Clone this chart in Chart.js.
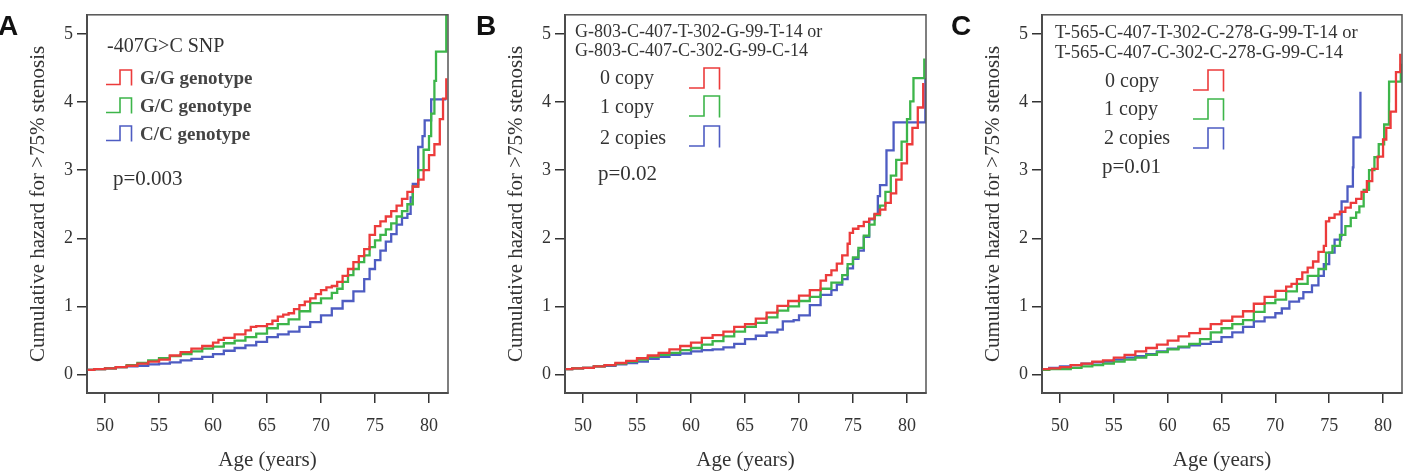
<!DOCTYPE html>
<html>
<head>
<meta charset="utf-8">
<title>Cumulative hazard for &gt;75% stenosis</title>
<script src="https://cdn.jsdelivr.net/npm/chart.js@4.4.0/dist/chart.umd.min.js"></script>
<style>
  html, body { margin:0; padding:0; background:#fff; }
  #wrap { position:relative; width:1409px; height:471px; overflow:hidden; font-family:'Liberation Serif','Times New Roman',serif; color:#333; }
  .panel { position:absolute; top:0; }
  .lbl { position:absolute; white-space:nowrap; line-height:1; transform:translateY(-50%); }
  .letter { position:absolute; font-family:'Liberation Sans',Arial,sans-serif; font-weight:bold; font-size:28px; line-height:1; color:#111; }
  .icon { position:absolute; }
</style>
</head>
<body>
<div id="wrap">
  <canvas id="cA" class="panel" style="left:0" width="470" height="471"></canvas>
  <canvas id="cB" class="panel" style="left:470px" width="470" height="471"></canvas>
  <canvas id="cC" class="panel" style="left:940px" width="469" height="471"></canvas>

  <div class="letter" style="left:-2px;top:12px">A</div>
  <div class="letter" style="left:476px;top:12px">B</div>
  <div class="letter" style="left:951px;top:12px">C</div>

  <!-- panel A legend -->
  <div class="lbl" style="left:107px;top:45px;font-size:20px">-407G&gt;C SNP</div>
  <svg class="icon" style="left:105px;top:69px" width="28" height="17"><path d="M1,15.5 H15 V1 H26.5 V16.5" fill="none" stroke="#ec3b3b" stroke-width="1.6"/></svg>
  <svg class="icon" style="left:105px;top:97px" width="28" height="17"><path d="M1,15.5 H15 V1 H26.5 V16.5" fill="none" stroke="#3db54a" stroke-width="1.6"/></svg>
  <svg class="icon" style="left:105px;top:125px" width="28" height="17"><path d="M1,15.5 H15 V1 H26.5 V16.5" fill="none" stroke="#4e5cc2" stroke-width="1.6"/></svg>
  <div class="lbl" style="left:140px;top:77px;font-size:19px;font-weight:bold;color:#444">G/G genotype</div>
  <div class="lbl" style="left:140px;top:105px;font-size:19px;font-weight:bold;color:#444">G/C genotype</div>
  <div class="lbl" style="left:140px;top:133px;font-size:19px;font-weight:bold;color:#444">C/C genotype</div>
  <div class="lbl" style="left:113px;top:178px;font-size:21px">p=0.003</div>

  <!-- panel B legend -->
  <div class="lbl" style="left:575px;top:31px;font-size:18px">G-803-C-407-T-302-G-99-T-14 or</div>
  <div class="lbl" style="left:575px;top:50px;font-size:18px">G-803-C-407-C-302-G-99-C-14</div>
  <div class="lbl" style="left:600px;top:77px;font-size:20px">0 copy</div>
  <div class="lbl" style="left:600px;top:106px;font-size:20px">1 copy</div>
  <div class="lbl" style="left:600px;top:137px;font-size:20px">2 copies</div>
  <svg class="icon" style="left:688px;top:67px" width="33" height="23"><path d="M1,21 H16 V1 H31.5 V22.5" fill="none" stroke="#ec3b3b" stroke-width="1.6"/></svg>
  <svg class="icon" style="left:688px;top:95px" width="33" height="23"><path d="M1,21 H16 V1 H31.5 V22.5" fill="none" stroke="#3db54a" stroke-width="1.6"/></svg>
  <svg class="icon" style="left:688px;top:125px" width="33" height="23"><path d="M1,21 H16 V1 H31.5 V22.5" fill="none" stroke="#4e5cc2" stroke-width="1.6"/></svg>
  <div class="lbl" style="left:598px;top:173px;font-size:21px">p=0.02</div>

  <!-- panel C legend -->
  <div class="lbl" style="left:1055px;top:32px;font-size:18.5px">T-565-C-407-T-302-C-278-G-99-T-14 or</div>
  <div class="lbl" style="left:1055px;top:52px;font-size:18.5px">T-565-C-407-C-302-C-278-G-99-C-14</div>
  <div class="lbl" style="left:1105px;top:80px;font-size:20px">0 copy</div>
  <div class="lbl" style="left:1104px;top:108px;font-size:20px">1 copy</div>
  <div class="lbl" style="left:1104px;top:137px;font-size:20px">2 copies</div>
  <svg class="icon" style="left:1192px;top:69px" width="33" height="23"><path d="M1,21 H16 V1 H31.5 V22.5" fill="none" stroke="#ec3b3b" stroke-width="1.6"/></svg>
  <svg class="icon" style="left:1192px;top:98px" width="33" height="23"><path d="M1,21 H16 V1 H31.5 V22.5" fill="none" stroke="#3db54a" stroke-width="1.6"/></svg>
  <svg class="icon" style="left:1192px;top:127px" width="33" height="23"><path d="M1,21 H16 V1 H31.5 V22.5" fill="none" stroke="#4e5cc2" stroke-width="1.6"/></svg>
  <div class="lbl" style="left:1102px;top:166px;font-size:21px">p=0.01</div>
</div>

<script>
const FONT = "'Liberation Serif', 'Times New Roman', serif";
const RED = '#ec3b3b', GREEN = '#3db54a', BLUE = '#4e5cc2';

// axes
const xTicks = [50, 55, 60, 65, 70, 75, 80];
const yTicks = [0, 1, 2, 3, 4, 5];
const xMin = 48.33, xMax = 81.76;
const yMin = -0.27, yMax = 5.28;

// A: -407G>C SNP
const ageA_GG = [48.3,49,50,51,52,53,54,55,56,57,58,59,60,60.5,61,62,63,63.5,64,65,65.5,66,66.5,67,67.5,68,68.5,69,69.5,70,70.5,71,71.5,72,72.5,73,73.5,74,74.5,75,75.5,76,76.5,77,77.5,78,78.5,79,79.5,80,80.5,81,81.3,81.6];
const hazA_GG = [0.07,0.08,0.09,0.11,0.13,0.16,0.19,0.22,0.28,0.33,0.38,0.42,0.47,0.51,0.54,0.59,0.65,0.70,0.71,0.74,0.79,0.85,0.88,0.90,0.96,1.02,1.07,1.12,1.18,1.24,1.28,1.30,1.36,1.45,1.55,1.65,1.74,1.84,2.05,2.18,2.25,2.32,2.40,2.48,2.58,2.68,2.76,2.86,3.00,3.22,3.38,3.75,4.05,4.35];
const ageA_GC = [48.3,49,50,51,52,53,54,55,56,57,58,59,60,61,62,63,64,65,66,67,68,69,70,71,71.5,72,72.5,73,73.5,74,74.5,75,75.5,76,76.5,77,77.5,78,78.5,79,79.5,80,80.2,80.5,80.65,81.5,81.6];
const hazA_GC = [0.07,0.08,0.09,0.11,0.14,0.17,0.21,0.24,0.27,0.30,0.34,0.38,0.41,0.46,0.50,0.55,0.60,0.68,0.74,0.81,0.93,1.05,1.12,1.20,1.26,1.36,1.46,1.55,1.65,1.75,1.87,1.97,2.05,2.13,2.22,2.32,2.40,2.50,2.76,3.00,3.30,3.50,3.83,4.31,4.74,4.74,5.40];
const ageA_CC = [48.3,49,50,51,52,53,54,55,56,57,58,59,60,61,62,63,64,65,66,67,68,69,70,71,72,73,74,74.5,75,75.5,76,76.5,77,77.5,78,78.3,78.5,79,79.4,79.6,80.2,81.6];
const hazA_CC = [0.07,0.08,0.09,0.11,0.12,0.13,0.15,0.16,0.18,0.21,0.23,0.26,0.30,0.35,0.39,0.43,0.48,0.55,0.59,0.63,0.70,0.77,0.87,0.97,1.08,1.22,1.40,1.55,1.68,1.82,1.95,2.06,2.20,2.30,2.36,2.60,2.80,3.34,3.50,3.73,4.04,4.04];

// B: G-803-C-407-T-302-G-99-T-14 haplotype copies
const ageB_0 = [48.3,49,50,51,52,53,54,55,56,57,58,59,60,61,62,63,64,65,66,67,68,69,70,71,72,72.5,73,73.5,74,74.5,74.7,75,75.5,76,76.5,77,77.5,78,78.5,79,79.5,80,80.5,81,81.5];
const hazB_0 = [0.08,0.09,0.10,0.12,0.14,0.17,0.20,0.24,0.28,0.32,0.37,0.42,0.47,0.54,0.58,0.63,0.70,0.74,0.82,0.91,1.01,1.08,1.16,1.24,1.38,1.46,1.53,1.63,1.75,1.92,2.08,2.14,2.18,2.24,2.29,2.36,2.42,2.52,2.66,2.86,3.10,3.38,3.62,3.92,4.28];
const ageB_1 = [48.3,49,50,51,52,53,54,55,56,57,58,59,60,61,62,63,64,65,66,67,68,69,70,71,72,73,74,74.5,75,75.5,76,76.5,77,77.5,78,78.5,79,79.5,80,80.3,80.6,81.5,81.6];
const hazB_1 = [0.08,0.09,0.10,0.12,0.14,0.16,0.19,0.22,0.26,0.29,0.32,0.36,0.39,0.44,0.49,0.56,0.63,0.70,0.76,0.84,0.94,1.00,1.08,1.14,1.26,1.35,1.46,1.62,1.72,1.86,2.04,2.20,2.34,2.48,2.68,2.92,3.15,3.42,3.75,4.01,4.35,4.35,4.64];
const ageB_2 = [48.3,49,50,51,52,53,54,55,56,57,58,59,60,61,62,63,64,65,66,67,68,68.5,69.5,70,71,72,73,73.5,74,74.5,75,75.5,76,76.5,77,77.3,77.5,78.1,78.76,81.6,81.7];
const hazB_2 = [0.08,0.09,0.10,0.12,0.13,0.15,0.17,0.19,0.23,0.26,0.29,0.31,0.34,0.36,0.37,0.40,0.45,0.52,0.57,0.62,0.66,0.78,0.80,0.87,1.02,1.17,1.24,1.32,1.40,1.56,1.70,1.82,2.02,2.28,2.35,2.62,2.78,3.29,3.70,3.70,4.35];

// C: T-565-C-407-T-302-C-278-G-99-T-14 haplotype copies
const ageC_0 = [48.3,49,50,51,52,53,54,55,56,57,58,59,60,61,62,63,64,65,66,67,68,69,70,71,71.5,72,72.5,73,73.5,74,74.5,74.7,75,75.5,76,76.5,77,77.5,78,78.5,79,79.5,80,80.3,80.7,81.2,81.6];
const hazC_0 = [0.08,0.09,0.11,0.14,0.16,0.19,0.21,0.25,0.29,0.34,0.39,0.44,0.50,0.56,0.61,0.67,0.74,0.79,0.85,0.93,1.04,1.14,1.23,1.29,1.33,1.40,1.50,1.57,1.66,1.80,1.89,2.25,2.30,2.35,2.39,2.45,2.52,2.58,2.68,2.84,3.02,3.20,3.45,3.62,3.86,4.44,4.71];
const ageC_1 = [48.3,49,50,51,52,53,54,55,56,57,58,59,60,61,62,63,64,65,66,67,68,69,70,71,72,73,74,74.7,75.3,76,76.5,77,77.5,77.8,78.2,78.7,79.2,79.6,80.1,80.55,80.56,81.6,81.65];
const hazC_1 = [0.07,0.08,0.08,0.10,0.12,0.14,0.16,0.19,0.22,0.25,0.29,0.33,0.37,0.41,0.45,0.52,0.62,0.68,0.74,0.80,0.92,1.05,1.10,1.22,1.33,1.45,1.55,1.79,1.89,2.05,2.18,2.30,2.38,2.47,2.71,3.00,3.19,3.38,3.67,4.01,4.30,4.30,4.56];
const ageC_2 = [48.3,49,50,51,52,53,54,55,56,57,58,59,60,61,62,63,64,65,66,67,68,69,70,70.6,71.3,72.2,72.6,73.4,74,74.5,75,75.5,76.1,76.15,76.7,77.2,77.25,77.85,77.9];
const hazC_2 = [0.08,0.10,0.12,0.14,0.16,0.18,0.19,0.22,0.25,0.27,0.30,0.34,0.38,0.40,0.43,0.45,0.48,0.55,0.62,0.70,0.78,0.84,0.90,0.97,1.07,1.12,1.21,1.31,1.45,1.62,1.79,1.98,2.04,2.54,2.76,3.04,3.48,3.48,4.15];

function pts(ages, haz) { return ages.map((a, i) => ({ x: a, y: haz[i] })); }

const boxPlugin = {
  id: 'box',
  afterDraw(chart) {
    const a = chart.chartArea, c = chart.ctx;
    c.save();
    c.strokeStyle = '#555';
    c.lineWidth = 1.5;
    c.strokeRect(a.left, a.top, a.right - a.left, a.bottom - a.top);
    c.restore();
  }
};

function makePanel(id, sets, plotLeft, padRight) {
  return new Chart(document.getElementById(id), {
    type: 'line',
    data: {
      datasets: sets.map(s => ({
        data: pts(s[0], s[1]), borderColor: s[2], borderWidth: 2.3,
        stepped: true, pointRadius: 0, fill: false
      }))
    },
    options: {
      responsive: false, animation: false, events: [],
      layout: { padding: { top: 9, right: padRight, bottom: 0, left: 0 } },
      plugins: { legend: { display: false }, tooltip: { enabled: false } },
      scales: {
        x: {
          type: 'linear', min: xMin, max: xMax,
          afterBuildTicks: sc => { sc.ticks = xTicks.map(v => ({ value: v })); },
          afterFit: sc => { sc.height = 78; },
          grid: { drawOnChartArea: false, tickLength: 10, color: '#333', lineWidth: 1.5 },
          border: { color: '#333', width: 2 },
          ticks: { font: { family: FONT, size: 18 }, color: '#333', padding: 12, maxRotation: 0, autoSkip: false },
          title: { display: true, text: 'Age (years)', font: { family: FONT, size: 21, lineHeight: 1 }, color: '#333', padding: { bottom: 0 } }
        },
        y: {
          type: 'linear', min: yMin, max: yMax,
          afterBuildTicks: sc => { sc.ticks = yTicks.map(v => ({ value: v })); },
          afterFit: sc => { sc.width = plotLeft; },
          grid: { drawOnChartArea: false, tickLength: 10, color: '#333', lineWidth: 1.5 },
          border: { color: '#333', width: 2 },
          ticks: { font: { family: FONT, size: 18 }, color: '#333', padding: 4 },
          title: { display: true, text: 'Cumulative hazard for >75% stenosis', font: { family: FONT, size: 21, lineHeight: 1 }, color: '#333', padding: { top: plotLeft - 49 - 10.5 } }
        }
      }
    },
    plugins: [boxPlugin]
  });
}

makePanel('cA', [[ageA_GG, hazA_GG, RED], [ageA_GC, hazA_GC, GREEN], [ageA_CC, hazA_CC, BLUE]], 87, 22);
makePanel('cB', [[ageB_0, hazB_0, RED], [ageB_1, hazB_1, GREEN], [ageB_2, hazB_2, BLUE]], 95, 14);
makePanel('cC', [[ageC_0, hazC_0, RED], [ageC_1, hazC_1, GREEN], [ageC_2, hazC_2, BLUE]], 102, 7);
</script>
</body>
</html>
